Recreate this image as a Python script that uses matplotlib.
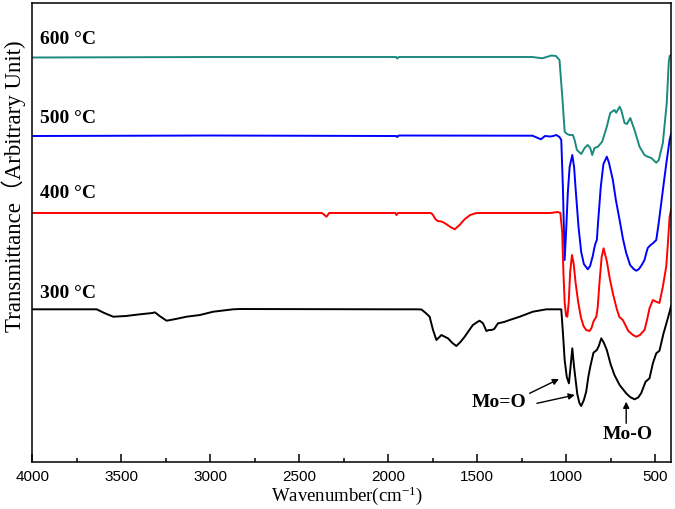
import numpy as np
import matplotlib
matplotlib.use("Agg")
import matplotlib.pyplot as plt
from matplotlib.ticker import MultipleLocator

plt.rcParams['font.family'] = ['Liberation Serif', 'Noto Sans CJK SC']
plt.rcParams['mathtext.default'] = 'regular'

# FTIR spectra, stacked, arbitrary transmittance units
wn_600 = [4000, 2995, 1955, 1950, 1940, 1189, 1134, 1110, 1083, 1057, 1037, 1020,
          1008, 994, 980, 962, 952, 939, 927, 915, 905, 896, 878, 864, 853, 840,
          821, 797, 771, 752, 728, 718, 699, 690, 671, 658, 639, 615, 587, 559,
          541, 521, 493, 479, 456, 434, 423, 418, 410]
t_600 = [4.045, 4.05, 4.05, 4.035, 4.05, 4.05, 4.037, 4.05, 4.065, 4.06, 4.02, 3.62,
         3.303, 3.28, 3.27, 3.27, 3.22, 3.12, 3.10, 3.08, 3.11, 3.14, 3.17, 3.14, 3.07, 3.14,
         3.153, 3.203, 3.353, 3.49, 3.52, 3.493, 3.553, 3.52, 3.39, 3.38, 3.44, 3.32, 3.153, 3.07,
         3.053, 3.04, 2.993, 3.02, 3.19, 3.59, 3.99, 4.06, 4.07]

wn_500 = [4000, 2995, 1955, 1950, 1940, 1189, 1141, 1119, 1088, 1073, 1055, 1037,
          1027, 1018, 1008, 1000, 990, 980, 965, 955, 945, 930, 915, 900, 878, 865,
          850, 840, 834, 827, 820, 805, 790, 771, 760, 737, 720, 699, 680, 662, 640,
          620, 605, 590, 575, 559, 549, 541, 525, 512, 493, 480, 465, 450, 436, 418, 410]
t_500 = [3.26, 3.265, 3.26, 3.25, 3.265, 3.263, 3.227, 3.26, 3.255, 3.26, 3.27, 3.25,
         3.22, 2.753, 2.02, 2.3, 2.7, 2.95, 3.07, 2.95, 2.7, 2.35, 2.1, 1.98, 1.927, 1.96,
         2.06, 2.15, 2.19, 2.22, 2.4, 2.75, 2.98, 3.053, 3.0, 2.82, 2.62, 2.42, 2.23, 2.09, 1.97,
         1.93, 1.913, 1.93, 1.97, 2.02, 2.09, 2.14, 2.17, 2.187, 2.22, 2.38, 2.59, 2.8, 2.99, 3.22, 3.28]

wn_400 = [4000, 2995, 2372, 2347, 2332, 1960, 1954, 1945, 1760, 1750, 1735, 1722,
          1700, 1683, 1650, 1626, 1599, 1569, 1539, 1505, 1189, 1088, 1047, 1032,
          1022, 1015, 1008, 1000, 993, 985, 977, 967, 957, 947, 932, 917, 902, 887,
          868, 857, 845, 830, 822, 812, 800, 789, 770, 755, 737, 715, 700, 681, 650,
          624, 605, 585, 559, 545, 531, 512, 493, 475, 456, 437, 427, 418, 410]
t_400 = [2.49, 2.49, 2.49, 2.453, 2.49, 2.49, 2.47, 2.49, 2.49, 2.475, 2.43, 2.41,
         2.405, 2.39, 2.35, 2.327, 2.37, 2.43, 2.47, 2.49, 2.49, 2.49, 2.50, 2.49,
         2.3, 1.9, 1.6, 1.46, 1.453, 1.6, 1.9, 2.07, 1.98, 1.80, 1.60, 1.45, 1.36, 1.32,
         1.31, 1.34, 1.41, 1.453, 1.55, 1.80, 2.05, 2.137, 2.0, 1.84, 1.687, 1.53, 1.45, 1.42, 1.31,
         1.27, 1.253, 1.27, 1.32, 1.42, 1.537, 1.62, 1.603, 1.59, 1.753, 1.953, 2.2, 2.45, 2.52]

wn_300 = [4000, 3639, 3596, 3546, 3476, 3396, 3326, 3312, 3285, 3246, 3195, 3134,
          3059, 2984, 2872, 2834, 1990, 1840, 1813, 1789, 1767, 1748, 1729, 1701,
          1679, 1664, 1639, 1617, 1594, 1570, 1544, 1524, 1499, 1486, 1467, 1448,
          1434, 1420, 1404, 1383, 1349, 1317, 1261, 1187, 1111, 1027, 1018, 1008,
          996, 984, 975, 965, 955, 937, 925, 915, 900, 887, 875, 864, 846, 827, 816,
          802, 787, 771, 750, 728, 699, 662, 640, 615, 595, 578, 553, 531, 512, 493,
          475, 452, 428, 415, 410]
t_300 = [1.527, 1.527, 1.49, 1.453, 1.46, 1.477, 1.49, 1.497, 1.46, 1.413, 1.43, 1.453,
         1.47, 1.503, 1.527, 1.53, 1.527, 1.527, 1.525, 1.49, 1.453, 1.32, 1.22, 1.27,
         1.25, 1.237, 1.19, 1.16, 1.20, 1.253, 1.32, 1.37, 1.40, 1.413, 1.387, 1.31,
         1.32, 1.32, 1.33, 1.387, 1.40, 1.42, 1.453, 1.503, 1.527, 1.527, 1.3, 1.02,
         0.85, 0.787, 0.95, 1.137, 0.95, 0.68, 0.59, 0.56, 0.62, 0.703, 0.85, 0.953, 1.093, 1.12, 1.16,
         1.237, 1.19, 1.12, 0.98, 0.87, 0.77, 0.687, 0.65, 0.627, 0.645, 0.687, 0.803, 0.837, 0.987, 1.087,
         1.113, 1.287, 1.437, 1.52, 1.56]

spectra = [
    ("600 °C", wn_600, t_600, "#1b8a7e", 4.227),
    ("500 °C", wn_500, t_500, "#0000ff", 3.44),
    ("400 °C", wn_400, t_400, "#ff0000", 2.69),
    ("300 °C", wn_300, t_300, "#000000", 1.687),
]

fig = plt.figure(figsize=(6.75, 5.09), dpi=100)
ax = fig.add_axes([0.0481, 0.0923, 0.946, 0.9018])

for label, wn, t, color, label_y in spectra:
    ax.plot(wn, t, color=color, lw=1.4)
    ax.text(3955, label_y, label, fontsize=14, fontweight='bold',
            ha='left', va='center')

arrow = dict(arrowstyle='-|>', color='k', lw=1.0, mutation_scale=9,
             shrinkA=0, shrinkB=0)
ax.text(1379, 0.60, "Mo=O", fontsize=14, fontweight='bold', ha='center', va='center')
ax.annotate("", xy=(1040, 0.83), xytext=(1205, 0.687), arrowprops=arrow)
ax.annotate("", xy=(951, 0.67), xytext=(1164, 0.587), arrowprops=arrow)
ax.text(655, 0.28, "Mo-O", fontsize=14, fontweight='bold', ha='center', va='center')
ax.annotate("", xy=(662, 0.603), xytext=(662, 0.387), arrowprops=arrow)

ax.set_xlim(4000, 410)
ax.set_ylim(0, 4.59)
ax.xaxis.set_major_locator(MultipleLocator(500))
ax.xaxis.set_minor_locator(MultipleLocator(250))
ax.tick_params(axis='x', which='both', direction='in', top=False, pad=6,
               labelsize=11, labelfontfamily='Liberation Sans', width=1.1)
ax.tick_params(axis='x', which='major', length=6)
ax.tick_params(axis='x', which='minor', length=3)
ax.set_yticks([])
for s in ax.spines.values():
    s.set_linewidth(1.1)

fig.text(0.514, 0.016, "Wavenumber(cm$^{-1}$)", fontsize=13.5, ha='center', va='baseline')
fig.text(0.0205, 0.6346, "Transmittance（Arbitrary Unit)", fontsize=16.5,
         rotation=90, ha='center', va='center')

fig.savefig("out.png", dpi=100)
